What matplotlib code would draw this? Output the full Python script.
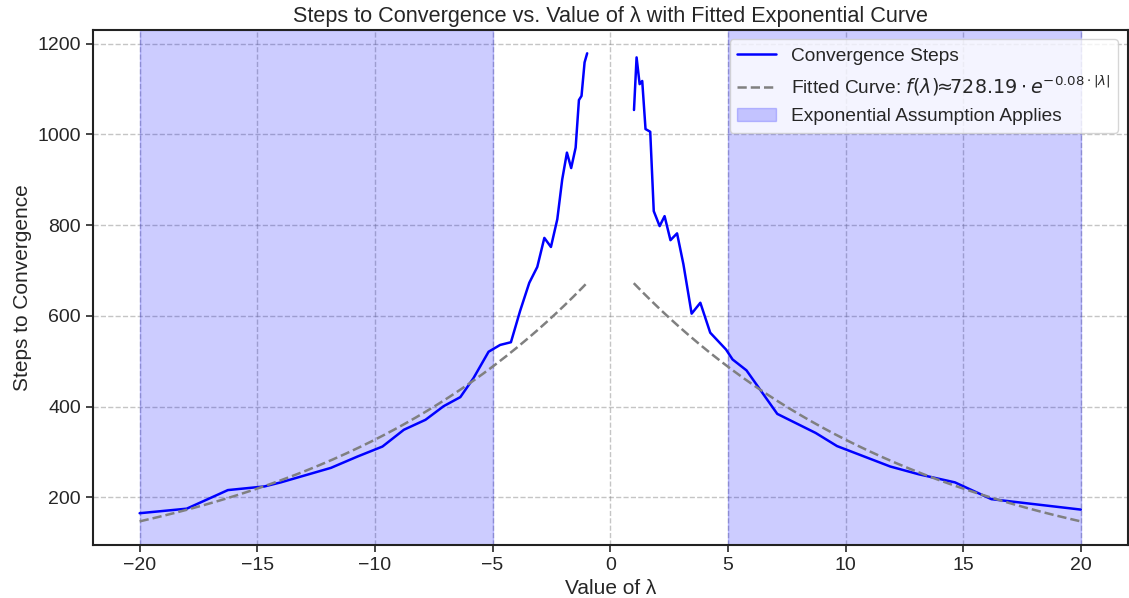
import numpy as np
import matplotlib
matplotlib.use("Agg")
import matplotlib.pyplot as plt
import seaborn as sns

# Data
lam_left = [-20.0, -18.0, -16.25, -14.7, -14.0, -11.87, -10.74, -9.68, -8.77, -7.85,
            -7.08, -6.37, -5.81, -5.17, -4.68, -4.22, -3.83, -3.44, -3.10, -2.80,
            -2.52, -2.25, -2.04, -1.84, -1.66, -1.47, -1.33, -1.22, -1.09, -0.98]
steps_left = [165, 175, 216, 224, 233, 265, 290, 312, 349, 371,
              401, 421, 463, 521, 536, 542, 611, 673, 708, 772,
              752, 813, 901, 960, 926, 971, 1076, 1085, 1159, 1179]
lam_right = [1.01, 1.12, 1.25, 1.36, 1.50, 1.70, 1.85, 2.10, 2.31, 2.56,
             2.84, 3.11, 3.46, 3.83, 4.25, 4.92, 5.20, 5.79, 7.10, 8.73,
             9.64, 11.90, 13.10, 14.65, 16.20, 20.0]
steps_right = [1054, 1170, 1111, 1118, 1012, 1006, 831, 798, 820, 767,
               782, 714, 605, 629, 563, 526, 504, 480, 384, 342,
               313, 268, 251, 233, 196, 173]

fit_a = 728.19
fit_b = 0.08
fit_range = (1, 20)
spans = [(-20, -5), (5, 20)]

sns.set_style("ticks")
plt.rcParams['font.family'] = ['Liberation Sans', 'DejaVu Sans']

fig, ax = plt.subplots(figsize=(11.29, 5.98), dpi=100)

lam_all = np.array(lam_left + [np.nan] + lam_right)
steps_all = np.array(steps_left + [np.nan] + steps_right, dtype=float)
ax.plot(lam_all, steps_all, color='blue', lw=1.8, label='Convergence Steps')

xf_pos = np.linspace(fit_range[0], fit_range[1], 200)
xf_neg = -xf_pos[::-1]
xf = np.concatenate([xf_neg, [np.nan], xf_pos])
yf = fit_a * np.exp(-fit_b * np.abs(xf))
ax.plot(xf, yf, color='gray', ls='--', lw=1.8,
        label=r'Fitted Curve: $f(\lambda)\!\!\approx\!\!728.19 \cdot e^{-0.08 \cdot |\lambda|}$')

for i, (a, b) in enumerate(spans):
    ax.axvspan(a, b, color='blue', alpha=0.2,
               label='Exponential Assumption Applies' if i == 0 else None)

ax.grid(True, linestyle='--', color='gray', alpha=0.45, lw=1)
ax.set_xticks([-20, -15, -10, -5, 0, 5, 10, 15, 20])
ax.set_yticks([200, 400, 600, 800, 1000, 1200])
ax.tick_params(labelsize=14, width=1.2, length=5)
for s in ax.spines.values():
    s.set_linewidth(1.5)
    s.set_color('#222222')

ax.set_title('Steps to Convergence vs. Value of λ with Fitted Exponential Curve', fontsize=15.6)
ax.set_xlabel('Value of λ', fontsize=15)
ax.set_ylabel('Steps to Convergence', fontsize=15)
ax.legend(loc='upper right', fontsize=13.8)

fig.subplots_adjust(left=0.082, right=0.999, top=0.95, bottom=0.089)
fig.savefig('out.png', dpi=100)
